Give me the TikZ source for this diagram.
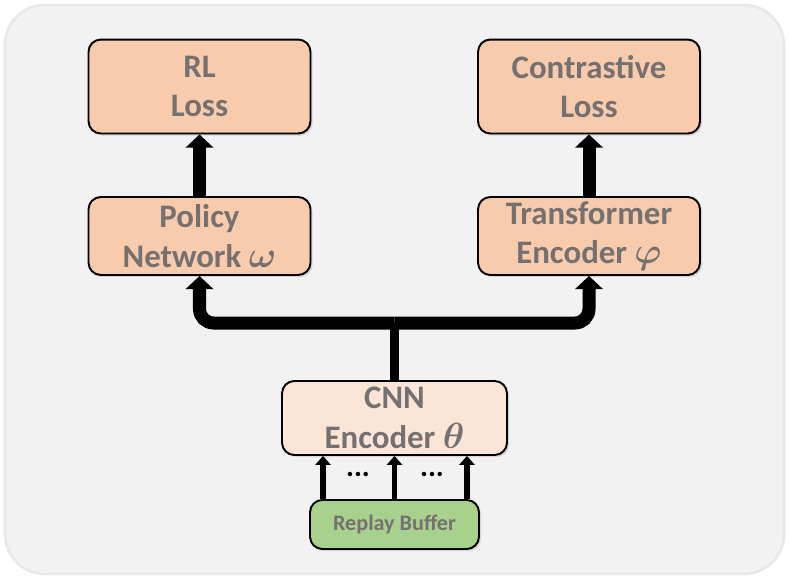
\documentclass[tikz,border=0pt]{standalone}
\usepackage{amsmath}
\usepackage{bm}
\usepackage{graphicx}
\usepackage{fontspec}
\setmainfont{Carlito}
\usetikzlibrary{arrows.meta,positioning,shadows}
\usepackage{tikz}
\definecolor{peach}{HTML}{F8CBAD}
\definecolor{lightpeach}{HTML}{FBE5D6}
\definecolor{buffergreen}{HTML}{A9D18E}
\definecolor{txtgray}{HTML}{767171}
\definecolor{bggray}{HTML}{F2F2F2}
\newcommand{\grk}[1]{\scalebox{1.2}{$\bm{#1}$}}

\begin{document}
\begin{tikzpicture}[x=0.02cm,y=-0.02cm,node distance=2.99cm,on grid,
	box/.style={draw,line width=1.1pt,rounded corners=7pt,fill=peach,
		minimum width=4.44cm,minimum height=1.56cm,align=center,text=txtgray,
		inner sep=1pt,font=\fontsize{18.7}{22.5}\selectfont\bfseries,
		drop shadow={shadow xshift=1.2pt,shadow yshift=-1.2pt,opacity=0.25}},
	fat/.style={line width=7.4pt,rounded corners=8pt,-{Triangle[width=15.5pt,length=7.5pt]}},
	feed/.style={line width=3.4pt,-{Triangle[width=8.5pt,length=5pt]}}]
		\useasboundingbox (0,0) rectangle (789,579);
		\filldraw[fill=bggray,draw=gray!18,line width=1.5pt,rounded corners=0.8cm] (5,5) rectangle (784,574);
		\node[box](policy) at (199.5,236) {Policy\\Network \grk{\omega}};
		\node[box](trans) at (589,236) {Transformer\\Encoder \grk{\varphi}};
		\node[box,minimum height=1.88cm](rl)[above=of policy] {RL\\Loss};
		\node[box,minimum height=1.88cm](con)[above=of trans] {Contrastive\\Loss};
		\node[box,fill=lightpeach,minimum width=4.5cm,minimum height=1.48cm](cnn) at (394.5,418) {CNN\\Encoder \grk{\theta}};
		\node[box,fill=buffergreen,minimum width=3.38cm,minimum height=0.98cm,
			font=\fontsize{12.6}{14}\selectfont\bfseries](buf)[below=2.13cm of cnn] {Replay Buffer};
		\coordinate (split) at (394.5,323);
		\draw[line width=5pt] (cnn.north) -- (split);
		\draw[fat] (split) -| (policy.south);
		\draw[fat] (split) -| (trans.south);
		\draw[fat] (policy.north) -- (rl.south);
		\draw[fat] (trans.north) -- (con.south);
		\draw[feed] ([xshift=-1.43cm]buf.north) -- ([xshift=-1.43cm]cnn.south);
		\draw[feed] (buf.north) -- (cnn.south);
		\draw[feed] ([xshift=1.45cm]buf.north) -- ([xshift=1.45cm]cnn.south);
		\node[font=\fontsize{17}{17}\selectfont\bfseries](d1) at (358,474) {...};
		\node[font=\fontsize{17}{17}\selectfont\bfseries](d2) at (432,474) {...};
\end{tikzpicture}
\end{document}
